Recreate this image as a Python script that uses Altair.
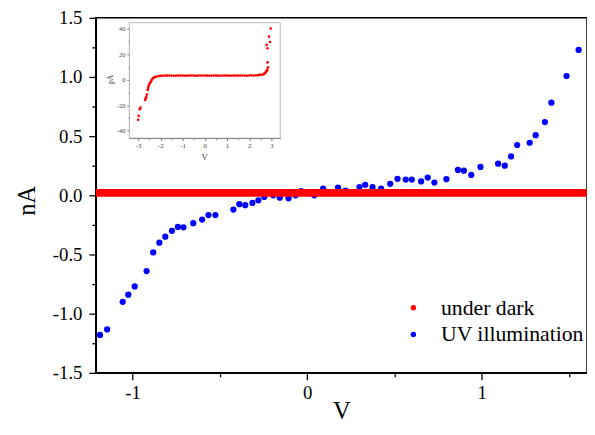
import altair as alt
import pandas as pd

FONT = "Liberation Serif"

# ---- main chart: UV illumination (blue points) ----
uv_V = [-1.186, -1.145, -1.056, -1.024, -0.987, -0.919, -0.881, -0.846, -0.812, -0.774,
        -0.740, -0.708, -0.652, -0.601, -0.565, -0.525, -0.422, -0.388, -0.354, -0.313,
        -0.279, -0.245, -0.194, -0.156, -0.106, -0.066, -0.034, 0.041, 0.092, 0.177,
        0.220, 0.300, 0.333, 0.375, 0.424, 0.476, 0.518, 0.565, 0.600, 0.653,
        0.691, 0.729, 0.798, 0.864, 0.898, 0.940, 0.993, 1.094, 1.132, 1.168,
        1.203, 1.275, 1.309, 1.362, 1.399, 1.486, 1.555]
uv_nA = [-1.18, -1.133, -0.90, -0.84, -0.77, -0.64, -0.483, -0.40, -0.35, -0.30,
         -0.267, -0.27, -0.236, -0.205, -0.167, -0.167, -0.12, -0.075, -0.083, -0.064,
         -0.042, -0.014, 0.0, -0.02, -0.025, 0.0, 0.035, 0.0, 0.056, 0.064,
         0.04, 0.07, 0.089, 0.07, 0.056, 0.097, 0.139, 0.133, 0.133, 0.117,
         0.15, 0.108, 0.136, 0.214, 0.208, 0.172, 0.24, 0.267, 0.25, 0.328,
         0.425, 0.444, 0.508, 0.619, 0.783, 1.008, 1.228]

# ---- main chart: under dark (red band) ----
dark_V = [-1.21, 1.603]
dark_nA = [0.021, 0.021]

series_names = ["under dark", "UV illumination"]
series_colors = ["#ff0000", "#0000ff"]

x_ticks = [-1.0, -0.5, 0.0, 0.5, 1.0, 1.5]
y_ticks = [-1.5, -1.25, -1.0, -0.75, -0.5, -0.25, 0.0, 0.25, 0.5, 0.75, 1.0, 1.25, 1.5]

# ---- inset: dark current in pA ----
inset_V_left = [-3.0, -2.98, -2.93, -2.9, -2.69, -2.66, -2.64, -2.61, -2.57, -2.55,
                -2.53, -2.51, -2.47, -2.43, -2.4, -2.36, -2.32, -2.29, -2.23, -2.17,
                -2.08, -1.99]
inset_pA_left = [-31.6, -28.5, -23.3, -22.0, -16.0, -14.5, -13.5, -11.7, -8.0, -6.5,
                 -5.0, -3.9, -2.5, -1.8, -0.5, 0.8, 1.4, 1.8, 2.3, 2.6,
                 2.9, 3.1]
inset_V_flat = [-1.9, -1.8, -1.7, -1.6, -1.5, -1.4, -1.3, -1.2, -1.1, -1.0,
                -0.9, -0.8, -0.7, -0.6, -0.5, -0.4, -0.3, -0.2, -0.1, 0.0,
                0.1, 0.2, 0.3, 0.4, 0.5, 0.6, 0.7, 0.8, 0.9, 1.0,
                1.1, 1.2, 1.3, 1.4, 1.5, 1.6, 1.7, 1.8, 1.9, 2.0,
                2.1, 2.2, 2.3]
inset_pA_flat = [3.2, 3.3, 3.3, 3.4, 3.3, 3.2, 3.3, 3.4, 3.3, 3.3,
                 3.2, 3.3, 3.3, 3.4, 3.3, 3.2, 3.3, 3.3, 3.4, 3.3,
                 3.3, 3.2, 3.3, 3.4, 3.3, 3.3, 3.2, 3.3, 3.4, 3.3,
                 3.3, 3.2, 3.3, 3.4, 3.3, 3.3, 3.4, 3.3, 3.2, 3.4,
                 3.5, 3.4, 3.6]
inset_V_right = [2.38, 2.43, 2.48, 2.55, 2.63, 2.67, 2.70, 2.74, 2.77, 2.80,
                 2.82, 2.85, 2.83, 2.79, 2.82, 2.89, 2.94, 2.97]
inset_pA_right = [3.5, 3.7, 3.9, 4.0, 4.1, 4.6, 5.2, 5.8, 6.5, 7.2,
                  8.0, 9.8, 13.7, 27.5, 24.9, 34.0, 29.8, 40.4]

inset_x_ticks = [-3.0, -2.5, -2.0, -1.5, -1.0, -0.5, 0.0, 0.5, 1.0, 1.5, 2.0, 2.5, 3.0]
inset_y_ticks = [-40, -30, -20, -10, 0, 10, 20, 30, 40]
inset_frame_V = [-3.4, 3.4]
inset_frame_pA = [-46, 45]

uv_df = pd.DataFrame({"V": uv_V, "nA": uv_nA, "series": ["UV illumination"] * len(uv_V)})
dark_df = pd.DataFrame({"V": dark_V, "nA": dark_nA})
inset_df = pd.DataFrame({"V": inset_V_left + inset_V_flat + inset_V_right,
                         "pA": inset_pA_left + inset_pA_flat + inset_pA_right})
frame_df = pd.DataFrame({"x1": [inset_frame_V[0]], "x2": [inset_frame_V[1]],
                         "y1": [inset_frame_pA[0]], "y2": [inset_frame_pA[1]]})

MINUS = "\u2212"

def fmt(spec):
    return "replace(format(datum.value, '" + spec + "'), '" + MINUS + "', '-')"

x_major = "abs(datum.value - round(datum.value)) < 0.001"
y_major = "abs(datum.value * 2 - round(datum.value * 2)) < 0.001"

xs = alt.Scale(domain=[-1.21, 1.603], nice=False, zero=False)
ys = alt.Scale(domain=[-1.5, 1.5], nice=False, zero=False)

x_axis = alt.Axis(values=x_ticks, title="V", grid=False,
                  labelExpr=x_major + " ? " + fmt(".0f") + " : ''",
                  tickSize={"condition": {"test": x_major, "value": 7}, "value": 4},
                  tickColor="black", tickWidth=1.3, domainColor="black", domainWidth=1.5,
                  labelFont=FONT, labelFontSize=19, labelColor="black", labelPadding=4,
                  titleFont=FONT, titleFontSize=25, titleFontWeight="normal", titleColor="black",
                  titleX=249, titleY=46, titleBaseline="alphabetic", titleAlign="center")
y_axis = alt.Axis(values=y_ticks, title="nA", grid=False,
                  labelExpr=y_major + " ? " + fmt(".1f") + " : ''",
                  tickSize={"condition": {"test": y_major, "value": 7}, "value": 4},
                  tickColor="black", tickWidth=1.3, domainColor="black", domainWidth=1.5,
                  labelFont=FONT, labelFontSize=19, labelColor="black", labelPadding=7,
                  titleFont=FONT, titleFontSize=25, titleFontWeight="normal", titleColor="black",
                  titleAngle=270, titleX=-62, titleY=185, titleBaseline="alphabetic",
                  titleAlign="center")

legend = alt.Legend(title=None, orient="none", legendX=311, legendY=283, padding=0,
                    labelFont=FONT, labelFontSize=22, labelColor="black",
                    symbolType="circle", symbolSize=30, symbolStrokeWidth=0,
                    labelOffset=17, rowPadding=5)

points = alt.Chart(uv_df).mark_point(filled=True, size=40, opacity=1, shape="circle").encode(
    x=alt.X("V:Q", scale=xs, axis=x_axis),
    y=alt.Y("nA:Q", scale=ys, axis=y_axis),
    color=alt.Color("series:N", scale=alt.Scale(domain=series_names, range=series_colors),
                    legend=legend),
)
dark = alt.Chart(dark_df).mark_line(color="#ff0000", strokeWidth=8, strokeCap="butt").encode(
    x=alt.X("V:Q", scale=xs, axis=x_axis),
    y=alt.Y("nA:Q", scale=ys, axis=y_axis),
)

# inset scales and axes
isx = alt.Scale(domain=[-3.4, 3.4], range=[34, 187], nice=False, zero=False)
isy = alt.Scale(domain=[-46, 45], range=[122, 5], nice=False, zero=False)

ix_major = "abs(datum.value - round(datum.value)) < 0.001"
iy_major = "abs(datum.value % 20) < 0.001"

inset_x_axis = alt.Axis(orient="bottom", offset=-238, values=inset_x_ticks, title="V", grid=False,
                        labelExpr=ix_major + " ? " + fmt(".0f") + " : ''",
                        tickSize={"condition": {"test": ix_major, "value": 2.5}, "value": 1.5},
                        tickColor="#555", tickWidth=0.8, domainColor="#666", domainWidth=1,
                        labelFont=FONT, labelFontSize=7, labelColor="#444", labelPadding=1,
                        titleFont=FONT, titleFontSize=9, titleFontWeight="normal", titleColor="#444",
                        titleX=110, titleY=22, titleBaseline="alphabetic", titleAlign="center")
inset_y_axis = alt.Axis(orient="left", offset=-34, values=inset_y_ticks, title="pA", grid=False,
                        labelExpr=iy_major + " ? " + fmt(".0f") + " : ''",
                        tickSize={"condition": {"test": iy_major, "value": 2.5}, "value": 1.5},
                        tickColor="#555", tickWidth=0.8, domainColor="#666", domainWidth=1,
                        labelFont=FONT, labelFontSize=6.5, labelColor="#444", labelPadding=2,
                        titleFont=FONT, titleFontSize=7.5, titleFontWeight="normal", titleColor="#444",
                        titleAngle=270, titleX=-19, titleY=62, titleBaseline="middle",
                        titleAlign="center")

frame = alt.Chart(frame_df).mark_rect(fill="white", stroke="#aaa", strokeWidth=0.8).encode(
    x=alt.X("x1:Q", scale=isx, axis=inset_x_axis),
    x2="x2:Q",
    y=alt.Y("y1:Q", scale=isy, axis=inset_y_axis),
    y2="y2:Q",
)
inset_pts = alt.Chart(inset_df).mark_point(filled=True, size=7, opacity=1, color="#ff0000",
                                           shape="circle").encode(
    x=alt.X("V:Q", scale=isx, axis=inset_x_axis),
    y=alt.Y("pA:Q", scale=isy, axis=inset_y_axis),
)

chart = alt.layer(
    alt.layer(points, dark),
    alt.layer(frame, inset_pts),
).resolve_scale(x="independent", y="independent").properties(
    width=498, height=360,
    padding={"left": 89, "top": 7, "right": 0, "bottom": 52},
    autosize=alt.AutoSizeParams(type="none"),
    background="white",
).configure_view(stroke="black", strokeWidth=1.5)

chart.save("out.html", embed_options={"renderer": "svg", "actions": False})
